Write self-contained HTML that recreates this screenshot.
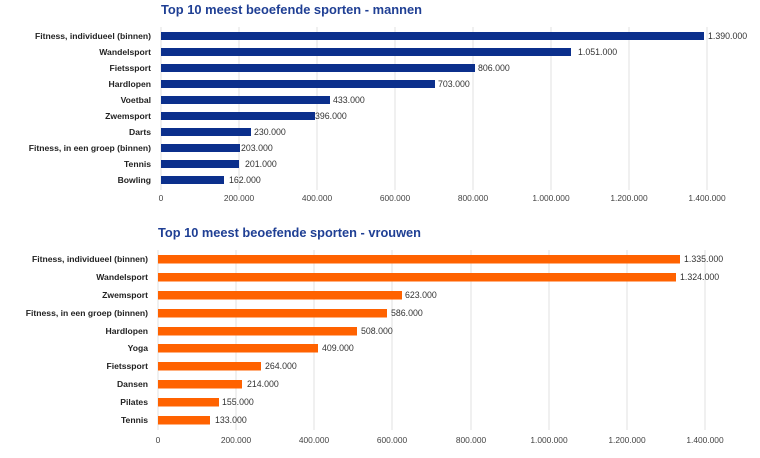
<!DOCTYPE html>
<html><head><meta charset="utf-8"><style>
html,body{margin:0;padding:0;background:#fff;}
svg{display:block;font-family:"Liberation Sans",sans-serif;}
.t{font-size:13px;font-weight:bold;fill:#1f3f94;}
.l{font-size:8.6px;font-weight:bold;fill:#222;text-anchor:end;}
.v{font-size:8.8px;fill:#333;}
.k{font-size:8.4px;fill:#444;text-anchor:middle;}
.g{stroke:#e2e2e2;stroke-width:1;}
</style></head><body>
<svg width="760" height="458" viewBox="0 0 760 458">
<text class="t" x="161" y="14" textLength="261" lengthAdjust="spacingAndGlyphs">Top 10 meest beoefende sporten - mannen</text>
<g class="g">
<line x1="161" y1="27" x2="161" y2="190"/><line x1="239" y1="27" x2="239" y2="190"/><line x1="317" y1="27" x2="317" y2="190"/><line x1="395" y1="27" x2="395" y2="190"/><line x1="473" y1="27" x2="473" y2="190"/><line x1="551" y1="27" x2="551" y2="190"/><line x1="629" y1="27" x2="629" y2="190"/><line x1="707" y1="27" x2="707" y2="190"/>
</g>
<g fill="#0b2f8c">
<rect x="161" y="32" width="543" height="8"/>
<rect x="161" y="48" width="410" height="8"/>
<rect x="161" y="64" width="314" height="8"/>
<rect x="161" y="80" width="274" height="8"/>
<rect x="161" y="96" width="169" height="8"/>
<rect x="161" y="112" width="154" height="8"/>
<rect x="161" y="128" width="90" height="8"/>
<rect x="161" y="144" width="79" height="8"/>
<rect x="161" y="160" width="78" height="8"/>
<rect x="161" y="176" width="63" height="8"/>
</g>
<g>
<text class="l" x="151" y="39">Fitness, individueel (binnen)</text>
<text class="l" x="151" y="55">Wandelsport</text>
<text class="l" x="151" y="71">Fietssport</text>
<text class="l" x="151" y="87">Hardlopen</text>
<text class="l" x="151" y="103">Voetbal</text>
<text class="l" x="151" y="119">Zwemsport</text>
<text class="l" x="151" y="135">Darts</text>
<text class="l" x="151" y="151">Fitness, in een groep (binnen)</text>
<text class="l" x="151" y="167">Tennis</text>
<text class="l" x="151" y="183">Bowling</text>
</g>
<g>
<text class="v" x="708" y="39">1.390.000</text>
<text class="v" x="578" y="55">1.051.000</text>
<text class="v" x="478" y="71">806.000</text>
<text class="v" x="438" y="87">703.000</text>
<text class="v" x="333" y="103">433.000</text>
<text class="v" x="315" y="119">396.000</text>
<text class="v" x="254" y="135">230.000</text>
<text class="v" x="241" y="151">203.000</text>
<text class="v" x="245" y="167">201.000</text>
<text class="v" x="229" y="183">162.000</text>
</g>
<g>
<text class="k" x="161" y="201">0</text><text class="k" x="239" y="201">200.000</text><text class="k" x="317" y="201">400.000</text><text class="k" x="395" y="201">600.000</text><text class="k" x="473" y="201">800.000</text><text class="k" x="551" y="201">1.000.000</text><text class="k" x="629" y="201">1.200.000</text><text class="k" x="707" y="201">1.400.000</text>
</g>

<text class="t" x="158" y="237" textLength="263" lengthAdjust="spacingAndGlyphs">Top 10 meest beoefende sporten - vrouwen</text>
<g class="g">
<line x1="158" y1="250" x2="158" y2="430"/><line x1="236" y1="250" x2="236" y2="430"/><line x1="314" y1="250" x2="314" y2="430"/><line x1="392" y1="250" x2="392" y2="430"/><line x1="471" y1="250" x2="471" y2="430"/><line x1="549" y1="250" x2="549" y2="430"/><line x1="627" y1="250" x2="627" y2="430"/><line x1="705" y1="250" x2="705" y2="430"/>
</g>
<g fill="#ff6200">
<rect x="158" y="255" width="522" height="8.5"/>
<rect x="158" y="273" width="518" height="8.5"/>
<rect x="158" y="291" width="244" height="8.5"/>
<rect x="158" y="309" width="229" height="8.5"/>
<rect x="158" y="327" width="199" height="8.5"/>
<rect x="158" y="344" width="160" height="8.5"/>
<rect x="158" y="362" width="103" height="8.5"/>
<rect x="158" y="380" width="84" height="8.5"/>
<rect x="158" y="398" width="61" height="8.5"/>
<rect x="158" y="416" width="52" height="8.5"/>
</g>
<g>
<text class="l" x="148" y="262">Fitness, individueel (binnen)</text>
<text class="l" x="148" y="280">Wandelsport</text>
<text class="l" x="148" y="298">Zwemsport</text>
<text class="l" x="148" y="316">Fitness, in een groep (binnen)</text>
<text class="l" x="148" y="334">Hardlopen</text>
<text class="l" x="148" y="351">Yoga</text>
<text class="l" x="148" y="369">Fietssport</text>
<text class="l" x="148" y="387">Dansen</text>
<text class="l" x="148" y="405">Pilates</text>
<text class="l" x="148" y="423">Tennis</text>
</g>
<g>
<text class="v" x="684" y="262">1.335.000</text>
<text class="v" x="680" y="280">1.324.000</text>
<text class="v" x="405" y="298">623.000</text>
<text class="v" x="391" y="316">586.000</text>
<text class="v" x="361" y="334">508.000</text>
<text class="v" x="322" y="351">409.000</text>
<text class="v" x="265" y="369">264.000</text>
<text class="v" x="247" y="387">214.000</text>
<text class="v" x="222" y="405">155.000</text>
<text class="v" x="215" y="423">133.000</text>
</g>
<g>
<text class="k" x="158" y="443">0</text><text class="k" x="236" y="443">200.000</text><text class="k" x="314" y="443">400.000</text><text class="k" x="392" y="443">600.000</text><text class="k" x="471" y="443">800.000</text><text class="k" x="549" y="443">1.000.000</text><text class="k" x="627" y="443">1.200.000</text><text class="k" x="705" y="443">1.400.000</text>
</g>
</svg>
</body></html>
